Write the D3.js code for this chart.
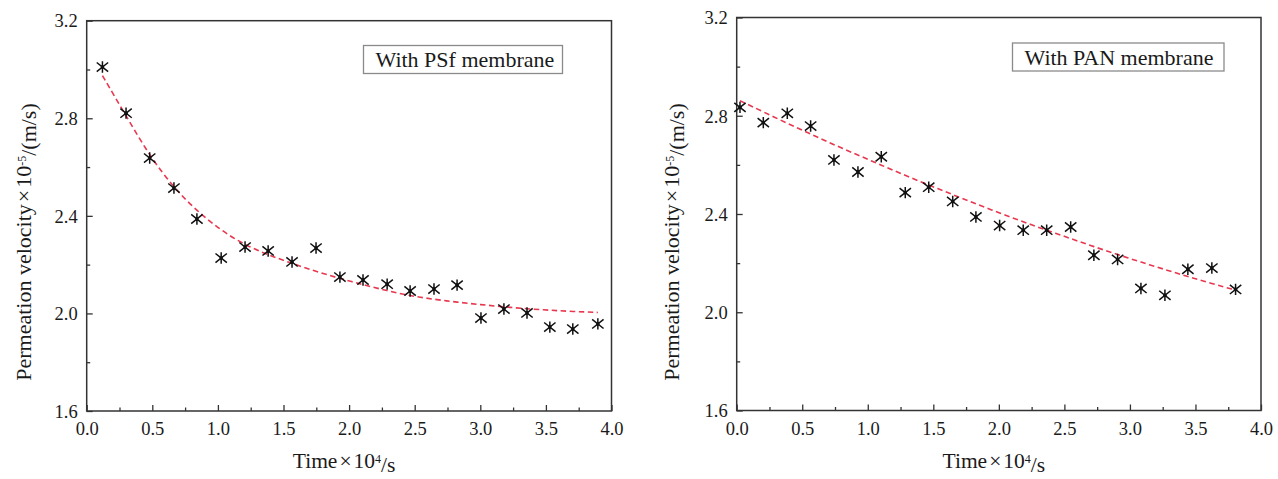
<!DOCTYPE html>
<html>
<head>
<meta charset="utf-8">
<script src="https://cdn.jsdelivr.net/npm/d3@7"></script>
<style>
  body { margin: 0; background: #fff; }
  svg text { font-family: "Liberation Serif", "Times New Roman", serif; fill: #1a1a1a; }
</style>
</head>
<body>
<svg id="chart" width="1278" height="479"></svg>
<script>
// values (time in 10^4 s, velocity in 10^-5 m/s)
const psfTime = [0.12, 0.30, 0.48, 0.665, 0.84, 1.025, 1.207, 1.383, 1.565, 1.748, 1.93,
  2.106, 2.29, 2.465, 2.647, 2.823, 3.005, 3.18, 3.356, 3.53, 3.705, 3.896];
const psfVelocity = [3.01, 2.821, 2.637, 2.514, 2.387, 2.227, 2.272, 2.256, 2.211, 2.268, 2.149,
  2.137, 2.12, 2.092, 2.10, 2.116, 1.981, 2.018, 2.002, 1.944, 1.936, 1.957];
const psfFit = [2.975, 2.81, 2.645, 2.515, 2.42, 2.34, 2.28, 2.24, 2.205, 2.172, 2.143,
  2.118, 2.093, 2.072, 2.058, 2.046, 2.036, 2.027, 2.019, 2.013, 2.008, 2.004];

const panTime = [0.025, 0.203, 0.386, 0.564, 0.742, 0.925, 1.103, 1.286, 1.465, 1.648, 1.825,
  2.006, 2.186, 2.365, 2.548, 2.725, 2.906, 3.084, 3.267, 3.442, 3.625, 3.806];
const panVelocity = [2.834, 2.772, 2.81, 2.758, 2.62, 2.571, 2.633, 2.487, 2.509, 2.451, 2.388,
  2.353, 2.334, 2.334, 2.347, 2.232, 2.215, 2.097, 2.069, 2.175, 2.18, 2.093];
const panFit = [2.861, 2.816, 2.769, 2.726, 2.682, 2.64, 2.599, 2.557, 2.518, 2.479, 2.441,
  2.404, 2.368, 2.334, 2.30, 2.267, 2.235, 2.204, 2.174, 2.145, 2.117, 2.09];

const xTicks = [0.0, 0.5, 1.0, 1.5, 2.0, 2.5, 3.0, 3.5, 4.0];
const xMinorTicks = [0.25, 0.75, 1.25, 1.75, 2.25, 2.75, 3.25, 3.75];
const yTicks = [1.6, 2.0, 2.4, 2.8, 3.2];
const yMinorTicks = [1.8, 2.2, 2.6, 3.0];

const svg = d3.select("#chart");

// asterisk marker: vertical bar plus a wide X
const asterisk = {
  draw(ctx, size) {
    const r = Math.sqrt(size) / 2;
    ctx.moveTo(0, -r); ctx.lineTo(0, r);
    ctx.moveTo(-r, -r * 0.8); ctx.lineTo(r, r * 0.8);
    ctx.moveTo(-r, r * 0.8); ctx.lineTo(r, -r * 0.8);
  }
};

function drawPanel(p) {
  const x = d3.scaleLinear().domain([0, 4]).range([p.left, p.right]);
  const y = d3.scaleLinear().domain([1.6, 3.2]).range([p.bottom, p.top]);
  const g = svg.append("g");

  // major + minor ticks, pointing inward
  g.append("g")
    .attr("transform", `translate(0,${p.bottom})`)
    .call(d3.axisBottom(x).tickValues(xTicks).tickSizeInner(-6).tickSizeOuter(0)
      .tickPadding(11).tickFormat(d3.format(".1f")));
  g.append("g")
    .attr("transform", `translate(0,${p.bottom})`)
    .call(d3.axisBottom(x).tickValues(xMinorTicks).tickSizeInner(-3.5).tickSizeOuter(0).tickFormat(""));
  const yAxis = g.append("g")
    .attr("transform", `translate(${p.left},0)`)
    .call(d3.axisLeft(y).tickValues(yTicks).tickSizeInner(-6).tickSizeOuter(0)
      .tickPadding(9).tickFormat(d3.format(".1f")));
  g.append("g")
    .attr("transform", `translate(${p.left},0)`)
    .call(d3.axisLeft(y).tickValues(yMinorTicks).tickSizeInner(-3.5).tickSizeOuter(0).tickFormat(""));

  g.selectAll(".domain").remove();
  g.selectAll(".tick line").attr("stroke", "#333").attr("stroke-width", 1.3);
  g.selectAll(".tick text").attr("font-size", 18.5).attr("fill", "#1a1a1a")
    .style("font-family", '"Liberation Serif", serif');
  yAxis.selectAll(".tick text").attr("dy", "0.34em");

  // frame
  g.append("rect")
    .attr("x", p.left).attr("y", p.top)
    .attr("width", p.right - p.left).attr("height", p.bottom - p.top)
    .attr("fill", "none").attr("stroke", "#333").attr("stroke-width", 1.5);

  // fitted curve
  const line = d3.line()
    .curve(d3.curveBasis)
    .x((d, i) => x(p.time[i]))
    .y(d => y(d));
  g.append("path")
    .datum(p.fit)
    .attr("d", line)
    .attr("fill", "none")
    .attr("stroke", "#e8384f")
    .attr("stroke-width", 1.6)
    .attr("stroke-dasharray", "5.5,3.5");

  // measured points
  const sym = d3.symbol().type(asterisk).size(130);
  const pts = g.selectAll(".pt").data(p.velocity).enter().append("g")
    .attr("transform", (d, i) => `translate(${x(p.time[i])},${y(d)})`);
  pts.append("path").attr("d", sym).attr("stroke", "#111").attr("stroke-width", 1.5).attr("fill", "none");
  pts.append("circle").attr("r", 1.8).attr("fill", "#111");

  // legend box
  g.append("rect")
    .attr("x", p.boxX).attr("y", p.boxY).attr("width", p.boxW).attr("height", 28)
    .attr("fill", "#fff").attr("stroke", "#8a8a8a").attr("stroke-width", 1.3);
  g.append("text")
    .attr("x", p.boxX + 12).attr("y", p.boxY + 21.5)
    .attr("font-size", 22)
    .text(p.label);

  // x title
  const xt = g.append("text")
    .attr("x", (p.left + p.right) / 2 - 5).attr("y", 468)
    .attr("text-anchor", "middle").attr("font-size", 21.5);
  xt.append("tspan").text("Time");
  xt.append("tspan").attr("dx", 2).text("×");
  xt.append("tspan").attr("dx", 2).text("10");
  xt.append("tspan").attr("dy", "-0.45em").attr("font-size", 12).text("4");
  xt.append("tspan").attr("dy", "0.45em").text("/s");

  // y title
  const yt = g.append("text")
    .attr("transform", `translate(${p.titleX},${p.titleY}) rotate(-90)`)
    .attr("text-anchor", "middle").attr("font-size", 22);
  yt.append("tspan").text("Permeation velocity");
  yt.append("tspan").attr("dx", 2).text("×");
  yt.append("tspan").attr("dx", 2).text("10");
  yt.append("tspan").attr("dy", "-0.45em").attr("font-size", 12).text("-5");
  yt.append("tspan").attr("dy", "0.45em").text("/(m/s)");
}

drawPanel({
  left: 86.7, right: 611.5, top: 20.7, bottom: 411,
  time: psfTime, velocity: psfVelocity, fit: psfFit,
  label: "With PSf membrane", boxX: 363.5, boxY: 45.5, boxW: 199,
  titleX: 31, titleY: 242
});
drawPanel({
  left: 736.7, right: 1261, top: 17.5, bottom: 410.5,
  time: panTime, velocity: panVelocity, fit: panFit,
  label: "With PAN membrane", boxX: 1012.5, boxY: 43, boxW: 211.5,
  titleX: 679, titleY: 242
});
</script>
</body>
</html>
